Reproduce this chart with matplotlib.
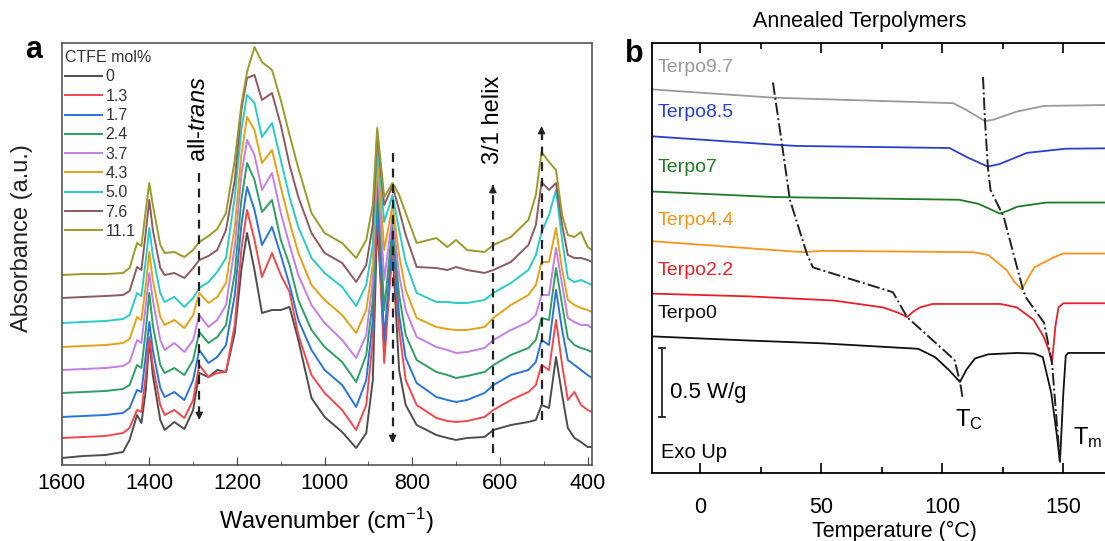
import numpy as np
import matplotlib.pyplot as plt
from matplotlib.ticker import MultipleLocator

plt.rcParams['font.family'] = ['Liberation Sans', 'DejaVu Sans']
plt.rcParams['mathtext.fontset'] = 'custom'
plt.rcParams['mathtext.rm'] = 'Liberation Sans'
plt.rcParams['mathtext.it'] = 'Liberation Sans:italic'
plt.rcParams['mathtext.bf'] = 'Liberation Sans:bold'

# ---------------- panel a : FTIR, stacked spectra (absorbance x0.01 a.u.)
wavenumber = [1600, 1550, 1500, 1460, 1445, 1428, 1418, 1408, 1400, 1392,
              1375, 1365, 1343, 1320, 1300, 1286, 1265, 1245, 1225, 1205,
              1190, 1177, 1160, 1143, 1120, 1100, 1080, 1060, 1030, 1000,
              960, 928, 905, 890, 880, 864, 845, 830, 815, 790,
              745, 720, 700, 675, 635, 615, 575, 535, 518, 505,
              488, 472, 458, 445, 430, 415, 400, 390]

ctfe_labels = ['0', '1.3', '1.7', '2.4', '3.7', '4.3', '5.0', '7.6', '11.1']
ctfe_colors = ['#4d4d4d', '#f0484f', '#2a74d8', '#2f9e62', '#c47ee6',
               '#e3a21c', '#2cc9c9', '#8d5a5e', '#9a9a2c']

abs_0 = [7, 9, 10, 13, 25, 50, 42, 75, 125, 90, 45, 35, 43, 36, 55, 92, 88, 95, 93, 132,
         195, 232, 195, 152, 155, 155, 158, 125, 67, 48, 33, 17, 32, 85, 245, 120, 215, 95, 60, 40,
         30, 27, 25, 27, 28, 35, 40, 43, 45, 60, 57, 108, 70, 37, 27, 23, 18, 18]
abs_1_3 = [27, 28, 29, 32, 37, 55, 53, 90, 128, 100, 60, 50, 55, 47, 65, 100, 88, 92, 93, 140,
           215, 255, 225, 188, 212, 190, 173, 130, 90, 72, 55, 35, 60, 125, 265, 102, 220, 135, 85, 60,
           47, 44, 43, 44, 48, 55, 65, 73, 80, 100, 95, 145, 100, 65, 73, 60, 55, 53]
abs_1_7 = [48, 49, 50, 52, 57, 75, 73, 110, 143, 115, 77, 68, 73, 65, 85, 115, 102, 108, 120, 170,
           240, 278, 255, 220, 238, 210, 180, 145, 115, 95, 80, 58, 85, 145, 280, 125, 230, 150, 107, 82,
           68, 65, 63, 65, 72, 80, 90, 95, 103, 125, 120, 175, 135, 105, 100, 95, 90, 87]
abs_2_4 = [72, 73, 74, 76, 80, 100, 97, 135, 172, 140, 100, 92, 97, 90, 105, 133, 122, 128, 140, 192,
           265, 302, 285, 253, 265, 225, 200, 165, 135, 118, 103, 83, 110, 165, 295, 155, 240, 170, 130, 105,
           93, 90, 87, 89, 93, 100, 110, 117, 125, 147, 145, 197, 160, 127, 120, 117, 115, 113]
abs_3_7 = [95, 96, 97, 99, 103, 125, 122, 160, 192, 165, 125, 115, 122, 113, 125, 150, 138, 145, 160, 218,
           290, 325, 310, 275, 292, 252, 220, 190, 160, 142, 125, 107, 130, 185, 305, 185, 250, 190, 155, 128,
           118, 115, 112, 113, 117, 125, 135, 143, 150, 170, 170, 217, 180, 147, 143, 140, 140, 137]
abs_4_3 = [118, 119, 120, 122, 126, 148, 145, 180, 213, 185, 148, 140, 145, 137, 150, 172, 162, 168, 182, 238,
           310, 348, 335, 302, 315, 278, 243, 212, 180, 165, 150, 132, 155, 200, 315, 215, 260, 210, 175, 147,
           138, 136, 135, 135, 138, 147, 160, 170, 180, 203, 203, 237, 195, 165, 160, 157, 155, 153]
abs_5_0 = [142, 143, 144, 146, 150, 172, 169, 205, 237, 210, 172, 163, 168, 158, 167, 177, 183, 193, 207, 268,
           335, 370, 362, 328, 342, 305, 268, 238, 207, 192, 178, 159, 180, 220, 325, 243, 270, 235, 203, 172,
           163, 163, 162, 162, 165, 172, 182, 195, 210, 233, 250, 275, 225, 187, 183, 185, 182, 180]
abs_7_6 = [167, 168, 169, 170, 174, 198, 195, 233, 265, 235, 197, 190, 192, 187, 197, 205, 209, 215, 235, 285,
           355, 387, 390, 365, 372, 340, 300, 268, 232, 212, 202, 183, 200, 240, 332, 260, 279, 255, 230, 198,
           197, 195, 198, 195, 192, 195, 203, 220, 240, 283, 275, 282, 240, 210, 207, 207, 205, 203]
abs_11_1 = [190, 191, 191, 192, 197, 222, 219, 255, 282, 260, 220, 212, 213, 208, 215, 223, 229, 236, 252, 305,
            360, 393, 418, 403, 395, 365, 330, 297, 252, 232, 222, 207, 225, 260, 337, 268, 282, 270, 252, 222,
            227, 218, 225, 215, 213, 220, 228, 245, 270, 313, 303, 295, 250, 230, 228, 233, 218, 215]

spectra = [abs_0, abs_1_3, abs_1_7, abs_2_4, abs_3_7, abs_4_3, abs_5_0, abs_7_6, abs_11_1]

# ---------------- panel b : DSC, heat flow (W/g, curves offset)
terpo0_T = [-20, 20, 50, 80, 90, 97, 102.5, 107.3, 110, 113.5, 119, 131, 138, 141.5, 145, 147.2, 148.6, 150, 151, 152, 180]
terpo0_Q = [0.99, 0.96, 0.94, 0.91, 0.90, 0.84, 0.75, 0.66, 0.75, 0.83, 0.86, 0.87, 0.865, 0.84, 0.58, 0.29, 0.08, 0.58, 0.85, 0.87, 0.87]
terpo2_T = [-20, 20, 55, 75.5, 82, 85.4, 88, 90.7, 96, 124, 130.8, 137.7, 141.8, 144, 145.3, 146.7, 148, 150, 180]
terpo2_Q = [1.30, 1.28, 1.25, 1.20, 1.16, 1.13, 1.17, 1.20, 1.225, 1.225, 1.20, 1.11, 0.99, 0.89, 0.80, 1.06, 1.20, 1.23, 1.23]
terpo4_T = [-20, 42.4, 50, 112.6, 119, 126.6, 130, 132.9, 135, 138, 145.7, 149.8, 180]
terpo4_Q = [1.68, 1.60, 1.61, 1.60, 1.58, 1.47, 1.38, 1.33, 1.40, 1.49, 1.56, 1.59, 1.59]
terpo7_T = [-20, 30, 107, 115, 120, 123.8, 127, 131, 143, 180]
terpo7_Q = [2.04, 2.00, 1.98, 1.95, 1.91, 1.88, 1.90, 1.93, 1.96, 1.96]
terpo85_T = [-20, 30, 40, 103, 110, 118.8, 123.8, 135, 151, 180]
terpo85_Q = [2.44, 2.38, 2.37, 2.355, 2.29, 2.22, 2.24, 2.32, 2.35, 2.355]
terpo97_T = [-20, 30, 104.5, 110, 117.6, 121, 131, 142, 180]
terpo97_Q = [2.78, 2.72, 2.68, 2.63, 2.55, 2.56, 2.62, 2.66, 2.67]

dsc_names = ['Terpo9.7', 'Terpo8.5', 'Terpo7', 'Terpo4.4', 'Terpo2.2', 'Terpo0']
dsc_colors = ['#9a9a9a', '#2a3fcc', '#217a25', '#f7941d', '#e8202a', '#111111']
dsc_label_Q = [2.935, 2.616, 2.217, 1.833, 1.464, 1.159]

# trend lines through the Tc and Tm minima
tc_T = [30, 33.5, 37, 44, 46.5, 79.6, 85.4, 105, 107.3, 108.5]
tc_Q = [2.83, 2.41, 1.98, 1.59, 1.49, 1.31, 1.13, 0.82, 0.66, 0.53]
tm_T = [116.8, 117.6, 118.8, 119.9, 125.3, 133.3, 134.6, 142, 145.3, 148.6]
tm_Q = [2.87, 2.56, 2.22, 2.05, 1.86, 1.33, 1.27, 1.09, 0.80, 0.08]


def dashed_arrow(ax, x, y_tail, y_head):
    ax.plot([x, x], [y_tail, y_head], ls=(0, (4, 3)), color='#222222', lw=1.6)
    d = 8 if y_head > y_tail else -8
    ax.annotate('', xy=(x, y_head), xytext=(x, y_head - d),
                arrowprops=dict(arrowstyle='-|>', color='#222222', lw=1.0,
                                mutation_scale=11, shrinkA=0, shrinkB=0))


def main():
    fig = plt.figure(figsize=(11.05, 5.41), dpi=100)

    # ---------- a
    ax = fig.add_axes([0.0558, 0.1405, 0.4799, 0.780])
    for vals, lab, col in zip(spectra, ctfe_labels, ctfe_colors):
        ax.plot(wavenumber, vals, color=col, lw=1.4, label=lab)
    ax.set_xlim(1600, 390)
    ax.set_ylim(0, 422)
    ax.xaxis.set_major_locator(MultipleLocator(200))
    ax.xaxis.set_minor_locator(MultipleLocator(100))
    ax.set_yticks([])
    ax.tick_params(axis='x', which='both', direction='in', labelsize=15.5, pad=6, color='#444444')
    ax.tick_params(axis='x', which='major', length=6)
    ax.tick_params(axis='x', which='minor', length=3)
    for s in ax.spines.values():
        s.set_color('#555555')
        s.set_linewidth(1.2)
    ax.set_xlabel('Wavenumber (cm$^{-1}$)', fontsize=17, labelpad=8)
    fig.text(0.020, 0.56, 'Absorbance (a.u.)', rotation=90, fontsize=17,
             ha='center', va='center', color='#222222')

    leg = ax.legend(loc='upper left', bbox_to_anchor=(0.007, 0.983), frameon=False,
                    title='CTFE mol%', title_fontsize=11.5, fontsize=11.5,
                    handlelength=2.3, handletextpad=0.2, labelspacing=0.27,
                    borderpad=0, borderaxespad=0, alignment='left')
    for t in leg.get_texts():
        t.set_color('#333333')
    leg.get_title().set_color('#333333')

    dashed_arrow(ax, 1286, 292, 45)
    dashed_arrow(ax, 845, 312, 22)
    dashed_arrow(ax, 616, 12, 280)
    dashed_arrow(ax, 505, 45, 339)
    ax.text(1286, 346, 'all-$\\mathit{trans}$', rotation=90, fontsize=17,
            ha='center', va='center')
    ax.text(616, 345, '3/1 helix', rotation=90, fontsize=17, ha='center', va='center')

    fig.text(25 / 1105, 1 - 58 / 541, 'a', fontsize=22, fontweight='bold', va='baseline')

    # ---------- b
    bx = fig.add_axes([0.590, 0.1257, 0.438, 0.7948])
    curves = [(terpo97_T, terpo97_Q), (terpo85_T, terpo85_Q), (terpo7_T, terpo7_Q),
              (terpo4_T, terpo4_Q), (terpo2_T, terpo2_Q), (terpo0_T, terpo0_Q)]
    for (T, Q), name, col, ly in zip(curves, dsc_names, dsc_colors, dsc_label_Q):
        bx.plot(T, Q, color=col, lw=1.3)
        bx.text(-17.5, ly, name, color=col, fontsize=14, ha='left', va='center')
    bx.plot(tc_T, tc_Q, color='#222222', ls='-.', lw=1.4)
    bx.plot(tm_T, tm_Q, color='#222222', ls='-.', lw=1.4)

    bx.set_xlim(-20, 180)
    bx.set_ylim(0, 3.116)
    bx.set_xticks([0, 50, 100, 150])
    bx.xaxis.set_minor_locator(MultipleLocator(25))
    bx.set_yticks([])
    bx.tick_params(axis='x', which='both', direction='in', top=True, labelsize=15.5, pad=17)
    bx.tick_params(axis='x', which='major', length=7, width=1.2)
    bx.tick_params(axis='x', which='minor', length=4, width=1.2)
    for s in bx.spines.values():
        s.set_linewidth(1.3)
    bx.set_xlabel('Temperature (°C)', fontsize=15.5, labelpad=2)

    # 0.5 W/g scale bar
    bx.plot([-16, -16], [0.406, 0.906], color='#222222', lw=1.3)
    bx.plot([-17.2, -14.8], [0.406, 0.406], color='#222222', lw=1.3)
    bx.plot([-17.2, -14.8], [0.906, 0.906], color='#222222', lw=1.3)
    bx.text(-12.6, 0.58, '0.5 W/g', fontsize=16, ha='left', va='center')
    bx.text(-16.3, 0.152, 'Exo Up', fontsize=14.5, ha='left', va='center')
    bx.text(105.2, 0.384, 'T$_\\mathregular{C}$', fontsize=17, ha='left', va='center')
    bx.text(154, 0.26, 'T$_\\mathregular{m}$', fontsize=17, ha='left', va='center')

    fig.text(860 / 1105, 1 - 21 / 541, 'Annealed Terpolymers', fontsize=15.5,
             ha='center', va='center')
    fig.text(625 / 1105, 1 - 62 / 541, 'b', fontsize=22, fontweight='bold', va='baseline')

    fig.savefig('out.png', dpi=100)


if __name__ == "__main__":
    main()
